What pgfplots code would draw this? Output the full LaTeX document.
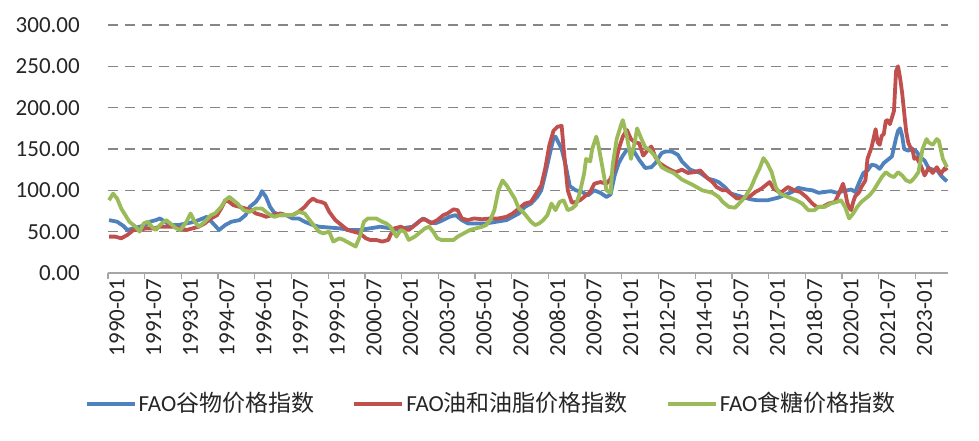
\documentclass[border=0pt]{standalone}
\usepackage{fontspec}
\setmainfont{Carlito}
\newfontfamily\cjk{Noto Sans CJK SC}
\usepackage{pgfplots}
\pgfplotsset{compat=1.18}
\usepackage{pgfplotstable}

\definecolor{cblue}{HTML}{4F81BD}
\definecolor{cred}{HTML}{C0504D}
\definecolor{cgreen}{HTML}{9BBB59}
\definecolor{gridc}{HTML}{868686}
\definecolor{axisc}{HTML}{A6A6A6}
\definecolor{txt}{HTML}{262626}

% month index: 0 = 1990-01
\pgfplotstableread{
m v
0 64
2 63
4 62
7 57
9 52
12 54
15 56
18 58
20 62
23 64
25 66
28 61
30 58
34 58
38 60
42 62
45 65
48 68
51 60
54 52
57 58
60 62
64 64
67 70
69 80
72 86
74 93
75 99
77 92
79 80
81 73
84 70
87 70
90 66
93 66
96 62
100 58
103 56
108 55
113 54
118 52
123 52
128 54
133 56
138 54
142 52
146 55
149 56
152 62
154 66
157 62
160 60
163 63
167 68
170 70
173 64
176 60
180 60
185 60
190 62
195 64
198 68
201 72
204 80
207 84
210 92
212 100
214 120
216 142
218 163
219 165
220 160
222 150
224 130
226 105
229 100
232 98
235 94
238 100
241 97
244 92
246 95
248 118
250 133
252 142
254 149
257 149
260 137
263 127
266 128
268 133
271 145
273 147
276 147
279 143
281 135
285 125
290 121
294 114
297 112
299 110
302 104
305 96
308 94
312 91
315 89
318 88
323 88
328 91
332 95
335 98
338 103
342 101
345 100
348 97
351 98
354 99
357 97
360 99
362 100
364 101
366 98
368 110
370 121
372 124
374 131
376 130
378 126
380 133
382 137
384 141
386 163
387 172
388 175
389 166
390 150
392 148
394 150
396 147
398 140
400 136
402 127
404 125
406 125
408 118
410 113
411 111
}\cereal

\pgfplotstableread{
m v
0 44
3 44
6 42
9 46
12 52
15 52
18 54
22 54
25 56
29 56
32 56
35 54
38 52
41 54
44 56
47 60
50 66
53 70
55 78
57 88
59 86
61 82
64 80
67 78
70 76
72 72
75 70
77 68
80 70
84 72
87 70
90 70
93 74
96 80
98 86
100 90
102 87
104 86
106 84
108 74
111 64
114 58
117 52
120 50
123 48
126 42
128 40
131 40
134 38
137 40
138 46
140 54
143 56
147 52
150 58
153 64
155 65
158 60
161 64
164 70
166 72
169 77
171 76
173 66
176 64
179 66
183 65
187 66
191 66
195 68
198 72
201 78
204 84
207 86
210 98
212 106
214 127
216 155
218 172
220 177
222 178
223 150
225 100
227 85
229 86
231 88
234 94
236 98
238 108
241 110
244 108
246 114
248 128
250 150
252 165
254 173
256 162
258 158
260 157
262 142
264 148
266 153
268 140
270 133
273 128
276 124
278 122
281 125
284 121
287 122
290 124
293 116
296 110
298 104
301 100
303 100
306 94
308 90
311 91
314 92
317 98
320 102
322 106
324 110
326 102
328 99
330 98
333 104
336 100
339 98
342 92
345 84
347 80
350 80
353 84
356 86
358 96
360 108
361 99
362 86
363 79
364 76
365 86
366 93
368 98
369 104
371 112
372 138
374 152
375 163
376 174
377 158
378 155
379 166
380 168
381 184
382 185
383 180
384 188
385 196
386 244
387 250
388 236
389 218
390 194
391 171
392 158
393 152
394 150
395 138
396 140
398 131
400 118
402 127
404 121
406 128
408 120
410 127
411 124
}\oils

\pgfplotstableread{
m v
0 88
2 96
4 90
6 78
8 70
10 62
13 56
15 50
17 60
19 62
21 56
23 52
25 58
28 64
31 58
33 54
35 52
38 62
40 72
42 62
44 56
47 62
50 70
52 72
55 80
57 88
59 92
61 88
63 84
66 76
69 74
72 78
75 78
78 72
81 68
84 70
87 70
90 70
93 74
96 72
99 62
101 56
103 50
105 48
108 50
110 38
113 42
115 40
118 36
121 32
123 44
125 62
127 66
129 66
131 66
134 62
136 60
138 56
141 44
143 52
145 50
147 40
150 44
152 48
155 54
157 56
159 50
161 42
163 40
166 40
169 40
171 44
174 48
177 52
180 54
183 56
185 58
187 64
189 76
191 100
193 112
195 106
197 98
199 90
201 78
203 74
205 68
207 62
209 58
211 60
213 64
215 70
217 84
219 76
221 86
223 88
225 76
227 78
229 82
231 98
233 120
234 138
236 135
237 150
239 165
240 155
242 128
244 100
246 97
247 130
249 162
251 178
252 185
254 165
256 138
258 160
259 175
261 163
263 152
265 149
268 141
271 128
274 124
277 121
281 113
286 107
291 100
296 97
299 92
301 86
304 80
307 79
309 84
312 92
315 104
317 116
319 126
321 139
323 132
325 122
327 104
329 96
333 92
337 88
340 84
343 76
346 76
348 80
351 80
354 84
357 86
359 88
361 80
363 66
365 72
367 80
369 86
371 90
373 94
375 100
377 108
379 116
381 122
383 118
385 116
387 122
389 118
391 112
393 110
395 115
397 122
399 150
401 162
402 158
404 155
406 162
407 160
409 138
411 128
}\sugar

\begin{document}
\fontsize{23bp}{27bp}\selectfont
\begin{tikzpicture}
\begin{axis}[
  scale only axis, width=840bp, height=248bp,
  xmin=-0.5, xmax=411.5, ymin=0, ymax=300,
  axis lines*=left,
  y axis line style={draw=none},
  x axis line style={axisc, line width=1.3bp},
  ytick={0,50,...,300},
  ymajorgrids,
  grid style={gridc, line width=1.6bp, dash pattern=on 10bp off 7bp},
  xtick={-0.5,17.5,...,395.5},
  xticklabels={1990-01,1991-07,1993-01,1994-07,1996-01,1997-07,1999-01,2000-07,2002-01,2003-07,2005-01,2006-07,2008-01,2009-07,2011-01,2012-07,2014-01,2015-07,2017-01,2018-07,2020-01,2021-07,2023-01},
  tick align=outside,
  major tick length=6bp,
  ytick style={draw=none},
  xtick style={axisc, line width=1.3bp},
  /pgf/number format/assume math mode=true,
  ticklabel style={font=\fontsize{23bp}{27bp}\selectfont, text=txt},
  x tick label style={rotate=90, anchor=east, inner sep=0pt, yshift=-9bp},
  y tick label style={anchor=east, inner sep=0pt, xshift=-22bp,
    /pgf/number format/.cd, fixed, fixed zerofill, precision=2, /tikz/.cd},
  legend style={draw=none, fill=none, at={(0.456,-0.528)}, anchor=center,
    font=\fontsize{23bp}{27bp}\selectfont, text=txt,
    legend columns=3, nodes={inner sep=2bp},
    /tikz/every even column/.append style={column sep=36bp}},
  legend image code/.code={\draw[#1, line width=4bp] (0bp,0bp) -- (48bp,0bp);},
  legend cell align=left,
  clip=false,
]
\addplot[draw=cblue, line width=3.8bp, line join=round] table[x=m, y=v] {\cereal};
\addlegendentry{FAO{\cjk 谷物价格指数}}
\addplot[draw=cred, line width=3.8bp, line join=round] table[x=m, y=v] {\oils};
\addlegendentry{FAO{\cjk 油和油脂价格指数}}
\addplot[draw=cgreen, line width=3.8bp, line join=round] table[x=m, y=v] {\sugar};
\addlegendentry{FAO{\cjk 食糖价格指数}}
\end{axis}
\pgfresetboundingbox
\path[use as bounding box] ([shift={(-108bp,-168bp)}]current axis.south west)
  rectangle ([shift={(31bp,25bp)}]current axis.north east);
\end{tikzpicture}
\end{document}
